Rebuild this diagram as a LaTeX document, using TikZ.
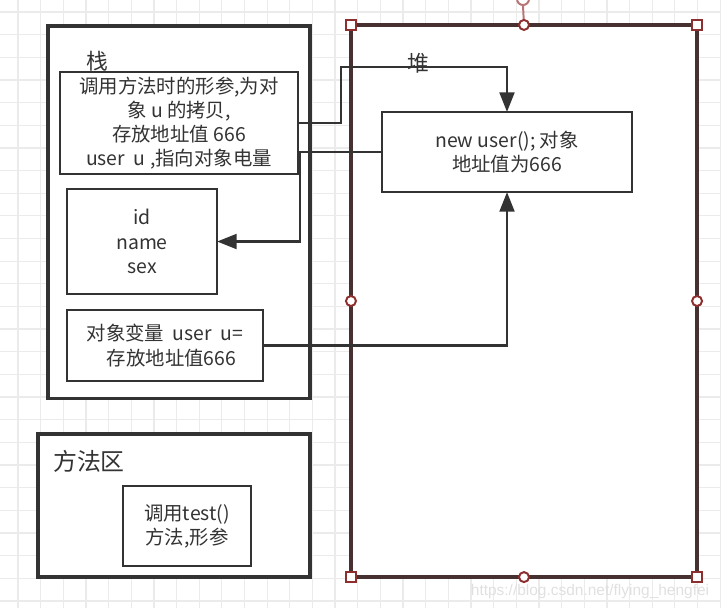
\documentclass[tikz,border=0pt]{standalone}
\usepackage{fontspec}
\setmainfont{Noto Sans CJK SC}
\newfontfamily\markfont{Liberation Sans}
\usetikzlibrary{arrows.meta}
\definecolor{ink}{HTML}{333333}
\definecolor{gridc}{HTML}{EBEBEB}
\definecolor{heapc}{HTML}{463030}
\definecolor{handlec}{HTML}{8E2F2F}
\definecolor{rotc}{HTML}{B87575}
\begin{document}
\begin{tikzpicture}[x=0.025cm, y=-0.025cm, line join=miter, >={Triangle[length=14pt,width=10.5pt]},
	box/.style={draw=ink, line width=2pt, fill=white, inner sep=0pt, outer sep=0pt, text=ink, align=center, font=\fontsize{13.8}{17.2}\selectfont},
	area/.style={box, line width=2.2pt},
	title/.style={text=ink, inner sep=0pt},
	conn/.style={draw=ink, line width=2pt, ->},
	handle/.style={draw=handlec, line width=1.4pt, fill=white}]
			\useasboundingbox (0,0) rectangle (721,608);
			% grid
			\begin{scope}[gridc, line width=0.9pt]
			\foreach \i in {0,...,31} \draw (18+\i*22.65,0) -- (18+\i*22.65,608);
			\foreach \j in {0,...,26} \draw (0,12+\j*22.65) -- (721,12+\j*22.65);
			\end{scope}
			% stack
			\node[area, minimum width=6.55cm, minimum height=9.3cm] (stack) at (179,212) {};
			\node[title, font=\fontsize{15.5}{18}\selectfont] (stacklbl) at (97,61) {栈};
			\node[box, minimum width=5.95cm, minimum height=2.55cm] (param) at (179,123)
				{调用方法时的形参,为对\\象 u 的拷贝,\\存放地址值 666\\user\ \ u ,指向对象电量};
			\node[box, minimum width=3.75cm, minimum height=2.625cm] (attrs) at (142,241.5) {id\\name\\sex};
			\node[box, minimum width=4.9cm, minimum height=1.775cm] (var) at (165,345.5)
				{对象变量\ \ user\ \ u=\\\ \ \ 存放地址值666};
			% heap
			\node[box, draw=heapc, line width=2.4pt, minimum width=8.65cm, minimum height=13.8cm] (heap) at (524,301) {};
			\node[title, font=\fontsize{15.5}{18}\selectfont] (heaplbl) at (418,63) {堆};
			\node[box, minimum width=6.25cm, minimum height=2cm] (obj) at (507,152) {new user(); 对象\\地址值为666};
			% method area
			\node[area, minimum width=6.8cm, minimum height=3.575cm] (method) at (174,505.5) {};
			\node[title, font=\fontsize{17}{20}\selectfont] (methodlbl) at (89,461) {方法区};
			\node[box, minimum width=3.2cm, minimum height=2cm] (mcall) at (187,526) {调用test()\\方法,形参};
			% connectors
			\coordinate (bendA) at (341,67);
			\coordinate (bendB) at (300,241.5);
			\draw[conn] (param.east) -| (bendA) -| (obj.north);
			\draw[conn] (obj.west) -| (bendB) -- (attrs.east);
			\draw[conn] (var.east) -| (obj.south);
			% selection handles
			\draw[rotc, line width=1.4pt] (heap.north) -- (523,6);
			\draw[rotc, line width=1.4pt, fill=white] (523,-1) circle (6);
			\foreach \c in {north west, north east, south west, south east}
				\draw[handle] ([xshift=-5*0.025cm, yshift=-5*0.025cm]heap.\c) rectangle ++(10,-10);
			\foreach \c in {north, south, east, west}
				\draw[handle] (heap.\c) circle (5);
			\node[text=gridc!90!gray, font=\markfont\fontsize{11}{13}\selectfont, inner sep=0pt] (mark) at (590,591) {https://blog.csdn.net/flying\_hengfei};
\end{tikzpicture}
\end{document}
